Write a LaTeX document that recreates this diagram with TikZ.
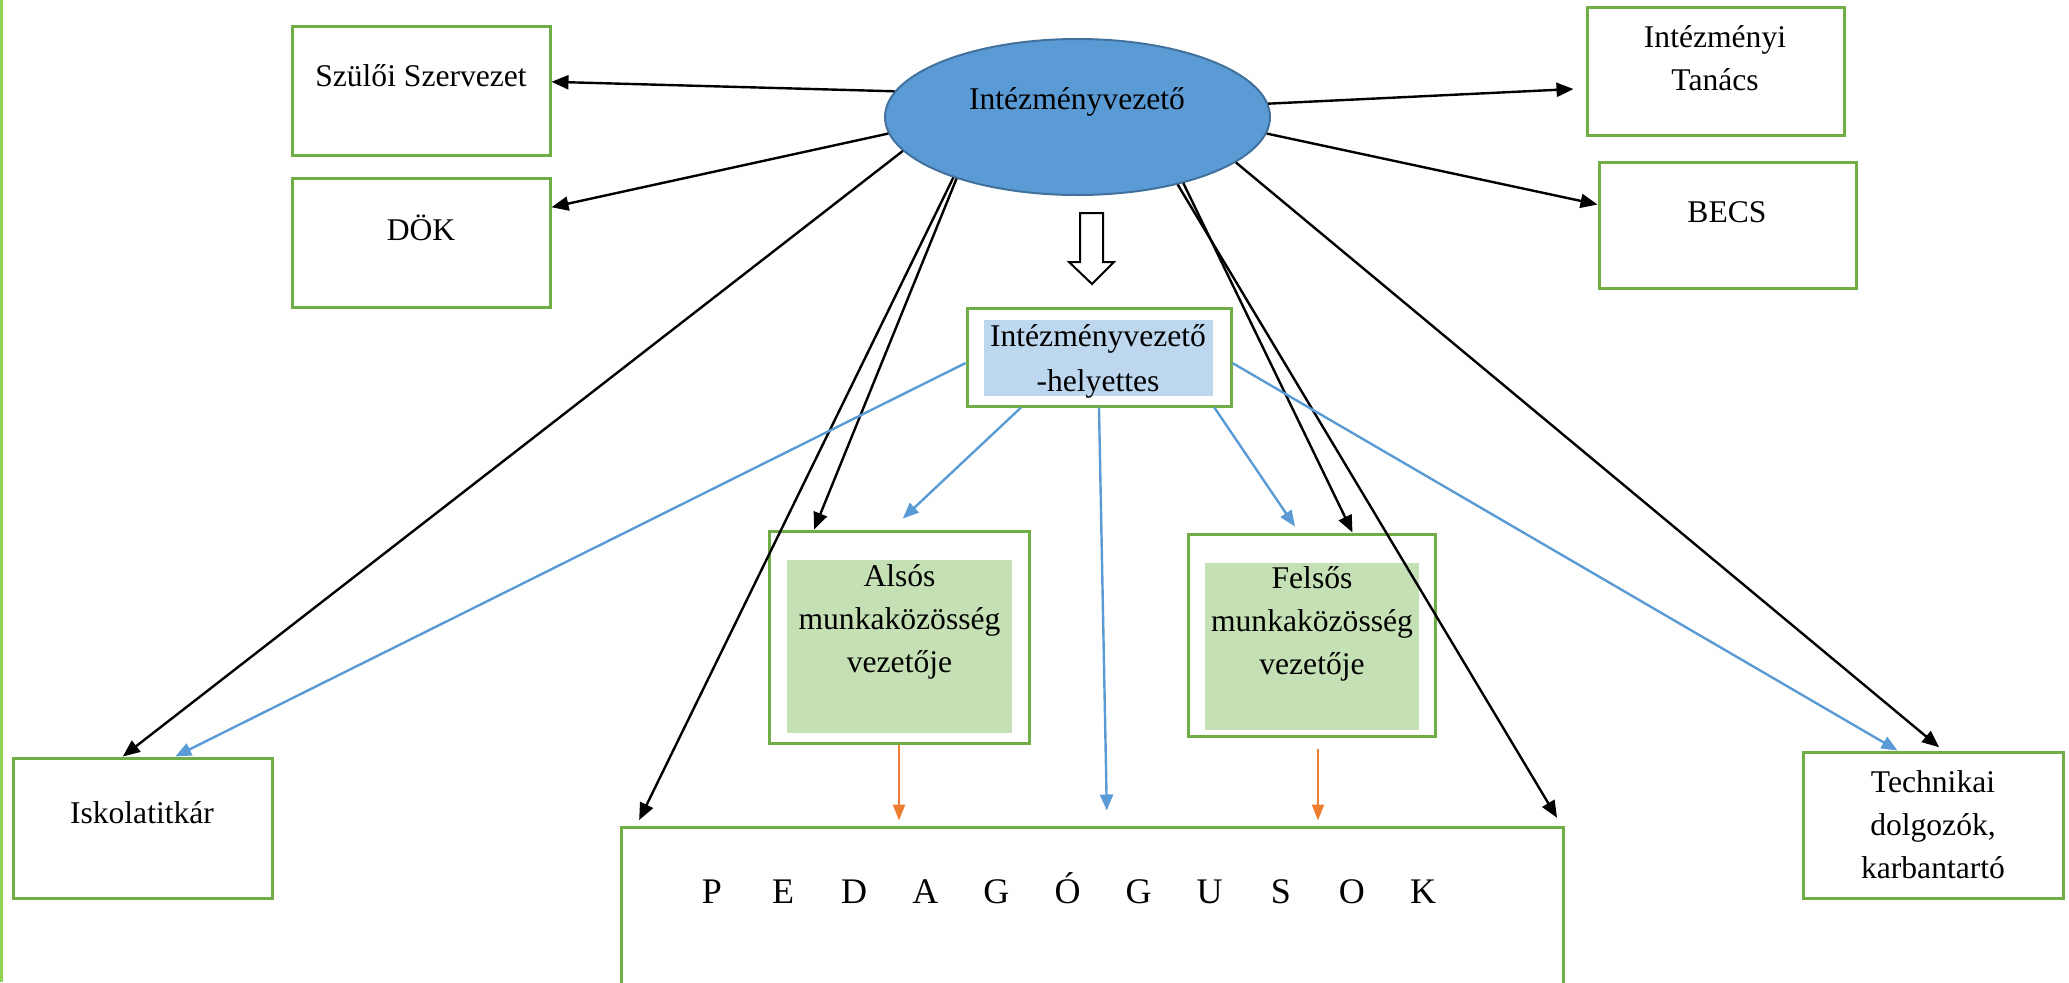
\documentclass[tikz,border=0pt]{standalone}
\usepackage{fontspec}
\setmainfont{Liberation Serif}
\usetikzlibrary{arrows.meta,calc,shapes.geometric}
\newdimen\pxu \pxu=0.5pt
\definecolor{boxgreen}{HTML}{70AD47}
\definecolor{edgegreen}{HTML}{92D050}
\definecolor{ellfill}{HTML}{5B9BD5}
\definecolor{elldraw}{HTML}{41719C}
\definecolor{helpfill}{HTML}{BDD7EE}
\definecolor{grpfill}{HTML}{C5E0B4}
\definecolor{arrblue}{HTML}{5B9BD5}
\definecolor{arrorange}{HTML}{ED7D31}
\tikzset{
  x=0.5pt, y=-0.5pt,
  box/.style={draw=boxgreen, line width=1.5pt, inner sep=0pt, rectangle},
  infill/.style={fill=#1, draw=none, inner sep=0pt, rectangle},
  lbl/.style={font=\fontsize{15.8pt}{21.5pt}\selectfont, align=center, inner sep=0pt},
  pedletter/.style={font=\fontsize{18pt}{21.5pt}\selectfont, inner sep=0pt, anchor=base},
  blk/.style={draw=black, line width=1.2pt, -{Triangle[length=8.5pt,width=7pt]}},
  blu/.style={draw=arrblue, line width=1.2pt, -{Triangle[length=8pt,width=6.5pt]}},
  org/.style={draw=arrorange, line width=1.2pt, -{Triangle[length=8pt,width=6pt]}},
}
\begin{document}
\begin{tikzpicture}
\useasboundingbox (0,0) rectangle (2069,982);
\draw[edgegreen, line width=1.5pt] (1.5,0) -- (1.5,982);

% boxes
\node[box, minimum width=258\pxu, minimum height=129\pxu] (szulo) at (421,90.5) {};
\node[box, minimum width=258\pxu, minimum height=129\pxu] (dok) at (421,242.5) {};
\node[box, minimum width=257\pxu, minimum height=128\pxu] (tanacs) at (1715.5,71) {};
\node[box, minimum width=257\pxu, minimum height=126\pxu] (becs) at (1727.5,225) {};
\node[ellipse, fill=ellfill, draw=elldraw, line width=1pt, inner sep=0pt,
      minimum width=385\pxu, minimum height=156\pxu] (ell) at (1077.5,117) {};
\node[box, minimum width=264\pxu, minimum height=98\pxu] (help) at (1099,357) {};
\node[infill=helpfill, minimum width=229\pxu, minimum height=76\pxu] (helpin) at (1098.5,358) {};
\node[box, minimum width=260\pxu, minimum height=212\pxu] (alsos) at (899,637) {};
\node[infill=grpfill, minimum width=225\pxu, minimum height=173\pxu] (alsosin) at (899.5,646.5) {};
\node[box, minimum width=247\pxu, minimum height=202\pxu] (felsos) at (1311.5,635) {};
\node[infill=grpfill, minimum width=214\pxu, minimum height=167\pxu] (felsosin) at (1312,646.5) {};
\node[box, minimum width=259\pxu, minimum height=140\pxu] (iskola) at (142.5,828) {};
\node[box, minimum width=942\pxu, minimum height=173\pxu] (ped) at (1092,913.5) {};
\node[box, minimum width=260\pxu, minimum height=146\pxu] (tech) at (1933,825) {};

% labels
\node[lbl] (szulot) at (421,76) {Szülői Szervezet};
\node[lbl] (dokt) at (421,228) {DÖK};
\node[lbl] (tanacst) at (1715,58.5) {Intézményi\\Tanács};
\node[lbl] (becst) at (1727,212) {BECS};
\node[lbl] (ellt) at (1077,102) {Intézményvezető};
\node[lbl, font=\fontsize{15.8pt}{22.5pt}\selectfont] (helpt) at (1098,361) {Intézményvezető\\-helyettes};
\node[lbl] (alsost) at (899.5,622) {Alsós\\munkaközösség\\vezetője};
\node[lbl] (felsost) at (1312,624) {Felsős\\munkaközösség\\vezetője};
\node[lbl] (iskolat) at (142,813) {Iskolatitkár};
\node[lbl] (techt) at (1933,825) {Technikai\\dolgozók,\\karbantartó};
\foreach \l [count=\i] in {P,E,D,A,G,Ó,G,U,S,O,K}
  \node[pedletter] (ped\i) at ({712+71.1*(\i-1)},903) {\l};

% hollow arrow
\draw[line width=1pt, fill=white] (1080,213) -- (1103,213) -- (1103,262) -- (1114,262)
  -- (1092,284) -- (1069,262) -- (1080,262) -- cycle;

% black arrows from the head
\draw[blk] (ell.172.6) -- ($(szulo.north east)!0.434!(szulo.south east)$);
\draw[blk] (ell.185.3) -- ($(dok.north east)!0.233!(dok.south east)$);
\draw[blk, shorten >=6pt] (ell.4.2) -- ($(tanacs.north west)!0.633!(tanacs.south west)$);
\draw[blk] (ell.-5.1) -- ($(becs.north west)!0.341!(becs.south west)$);
\draw[blk] (ell.191.3) -- ($(iskola.north west)!0.425!(iskola.north east)$);
\draw[blk] (ell.207.6) -- ($(alsos.north west)!0.177!(alsos.north east)$);
\draw[blk, shorten >=3pt] (ell.206.8) -- ($(ped.north west)!0.018!(ped.north east)$);
\draw[blk] (ell.-32) -- ($(felsos.north west)!0.664!(felsos.north east)$);
\draw[blk, shorten >=4.5pt] (ell.-34) -- ($(ped.north west)!0.997!(ped.north east)$);
\draw[blk, shorten >=2.5pt] (ell.-16.6) -- ($(tech.north west)!0.538!(tech.north east)$);

% blue arrows from the deputy
\draw[blu] ($(help.north west)!0.56!(help.south west)$) -- ($(iskola.north west)!0.625!(iskola.north east)$);
\draw[blu, shorten >=8pt] ($(help.south west)!0.208!(help.south east)$) -- ($(alsos.north west)!0.47!(alsos.north east)$);
\draw[blu, shorten >=7.5pt] (help.south) -- ($(ped.north west)!0.516!(ped.north east)$);
\draw[blu, shorten >=3.6pt] ($(help.south west)!0.932!(help.south east)$) -- ($(felsos.north west)!0.45!(felsos.north east)$);
\draw[blu] ($(help.north east)!0.56!(help.south east)$) -- ($(tech.north west)!0.365!(tech.north east)$);

% orange arrows
\coordinate (fo) at ($(felsos.south west)!0.526!(felsos.south east)$);
\draw[org, shorten >=2.5pt] (alsos.south) -- (alsos.south |- ped.north);
\draw[org, shorten <=5.5pt, shorten >=2.5pt] (fo) -- (fo |- ped.north);
\end{tikzpicture}
\end{document}
